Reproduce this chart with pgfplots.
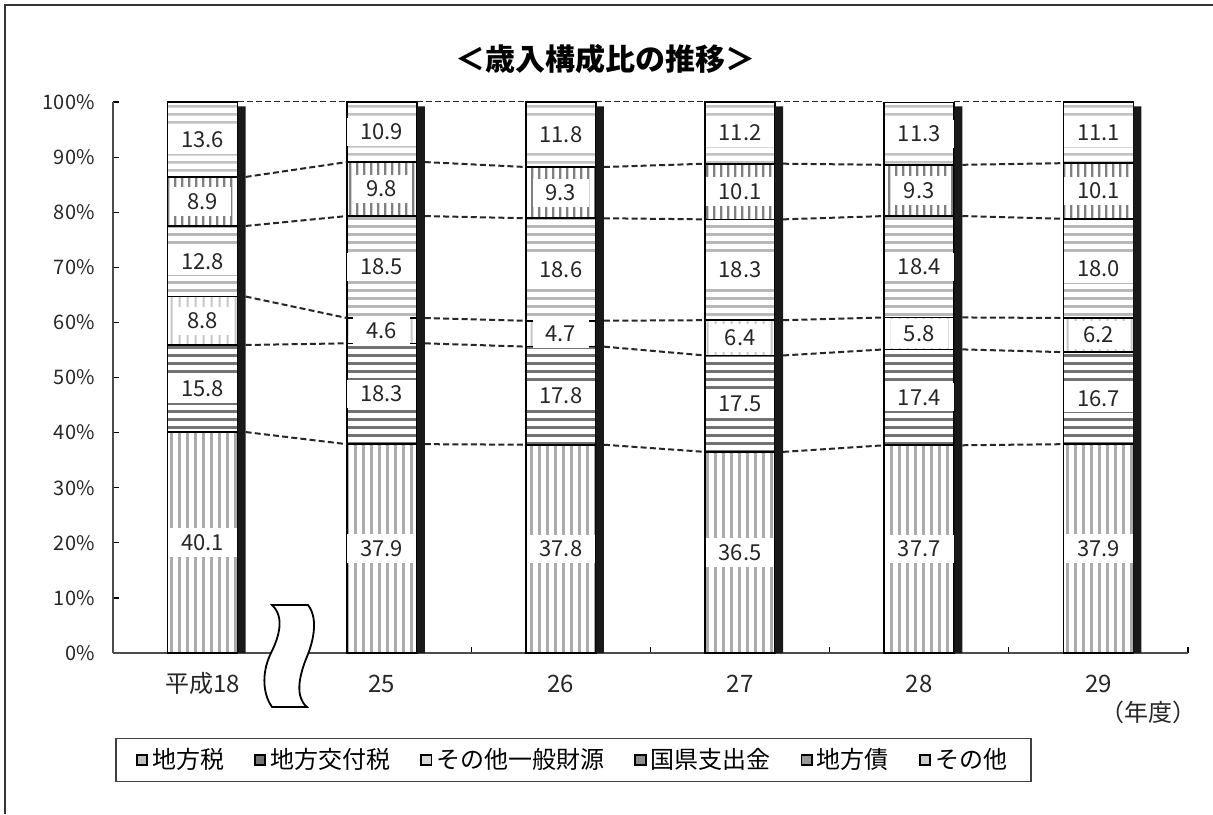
\documentclass[border=0pt]{standalone}
\usepackage{fontspec}
\setmainfont{Noto Sans CJK JP}
\usepackage{pgfplots}
\pgfplotsset{compat=1.18}
\usepackage{pgfplotstable}
\usetikzlibrary{patterns}

% stripe fills with tall / wide tiles, so no tile seams show inside a bar
\pgfdeclarepatternformonly{vA}{\pgfpointorigin}{\pgfqpoint{4pt}{400pt}}{\pgfqpoint{4pt}{400pt}}
  {\pgfpathrectangle{\pgfqpoint{1.25pt}{0pt}}{\pgfqpoint{1.5pt}{400pt}}\pgfusepath{fill}}
\pgfdeclarepatternformonly{vB}{\pgfpointorigin}{\pgfqpoint{4pt}{400pt}}{\pgfqpoint{4pt}{400pt}}
  {\pgfpathrectangle{\pgfqpoint{1.45pt}{0pt}}{\pgfqpoint{1.1pt}{400pt}}\pgfusepath{fill}}
\pgfdeclarepatternformonly{vC}{\pgfpointorigin}{\pgfqpoint{3.6pt}{400pt}}{\pgfqpoint{3.6pt}{400pt}}
  {\pgfpathrectangle{\pgfqpoint{1.15pt}{0pt}}{\pgfqpoint{1.3pt}{400pt}}\pgfusepath{fill}}
\pgfdeclarepatternformonly{hA}{\pgfpointorigin}{\pgfqpoint{700pt}{4pt}}{\pgfqpoint{700pt}{4pt}}
  {\pgfpathrectangle{\pgfqpoint{0pt}{1.25pt}}{\pgfqpoint{700pt}{1.5pt}}\pgfusepath{fill}}

% 歳入構成比 (%), bottom to top
\pgfplotstableread{
x tax kofu ippan koken sai other
0 40.1 15.8 8.8 12.8 8.9 13.6
1 37.9 18.3 4.6 18.5 9.8 10.9
2 37.8 17.8 4.7 18.6 9.3 11.8
3 36.5 17.5 6.4 18.3 10.1 11.2
4 37.7 17.4 5.8 18.4 9.3 11.3
5 37.9 16.7 6.2 18.0 10.1 11.1
}\datatable

\pgfplotsset{
  base/.style={scale only axis, width=537.5pt, height=275.5pt,
    at={(0,0)}, anchor=south west,
    xmin=-0.5, xmax=5.5, ymin=0, ymax=100, clip=false},
  icon/.style={legend image code/.code={%
    \draw[black, line width=0.9pt, fill=#1] (0pt,-2.6pt) rectangle (5.2pt,2.6pt);}},
  seg/.style={draw=black, line width=0.8pt, preaction={fill=white}},
  lab/.style={draw=none, mark=none, nodes near coords, point meta=explicit symbolic,
    every node near coord/.style={anchor=center, fill=white, text=black!85,
      inner xsep=6.5pt, inner ysep=3pt, font=\fontsize{11}{13}\selectfont}},
  link/.style={black!85, line width=1pt, dash pattern=on 3pt off 1.6pt,
    unbounded coords=jump, mark=none},
}

\begin{document}
\begin{tikzpicture}
\useasboundingbox (-56.5pt,-80.5pt) rectangle (550pt,326.5pt);

\begin{axis}[base,
  ybar stacked, bar width=35pt,
  axis lines*=left,
  axis line style={black!70, line width=0.8pt},
  tick align=inside, major tick length=3pt,
  tick style={black, line width=0.6pt},
  xtick={0.5,1.5,2.5,3.5,4.5,5.5}, xticklabels={},
  extra x ticks={0,1,2,3,4,5},
  extra x tick labels={平成18,25,26,27,28,29},
  extra x tick style={tick style={draw=none}},
  ytick={0,10,...,100},
  yticklabel={\pgfmathprintnumber{\tick}\%},
  /pgf/number format/assume math mode=true,
  yticklabel style={font=\fontsize{10}{12}\selectfont, text=black!85, anchor=east, inner sep=0pt, xshift=-9pt},
  xticklabel style={font=\fontsize{12}{14}\selectfont, text=black!85, anchor=base, inner sep=0pt, yshift=-19.5pt},
  title={\bfseries ＜歳入構成比の推移＞},
  title style={at={(axis description cs:0.4577,1.057)}, anchor=center, font=\fontsize{15}{17}\selectfont},
  xlabel={（年度）},
  xlabel style={at={(axis description cs:0.963,-0.107)}, anchor=center, font=\fontsize{12}{14}\selectfont, text=black!85},
  legend columns=6,
  legend cell align=left,
  legend style={at={(axis description cs:0.002,-0.154)}, anchor=north west,
    draw=black!75, line width=0.7pt, font=\fontsize{12}{14}\selectfont,
    inner xsep=10pt, inner ysep=3pt,
    /tikz/every even column/.append style={column sep=13pt}},
]
\addplot[seg, pattern=vA, pattern color=black!33, icon=black!25]
  table[x=x,y=tax]{\datatable};
\addlegendentry{地方税}
\addplot[seg, pattern=hA, pattern color=black!55, icon=black!55]
  table[x=x,y=kofu]{\datatable};
\addlegendentry{地方交付税}
\addplot[seg, pattern=vB, pattern color=black!22, icon=black!15]
  table[x=x,y=ippan]{\datatable};
\addlegendentry{その他一般財源}
\addplot[seg, pattern=hA, pattern color=black!28, icon=black!45]
  table[x=x,y=koken]{\datatable};
\addlegendentry{国県支出金}
\addplot[seg, pattern=vC, pattern color=black!50, icon=black!40]
  table[x=x,y=sai]{\datatable};
\addlegendentry{地方債}
\addplot[seg, pattern=hA, pattern color=black!24, icon=black!20]
  table[x=x,y=other]{\datatable};
\addlegendentry{その他}
\end{axis}

\begin{axis}[base, hide axis]
% dark edge to the right of each bar
\addplot[ybar, bar width=4pt, bar shift=19.5pt, fill=black!90, draw=none]
  coordinates {(0,99.2) (1,99.2) (2,99.2) (3,99.2) (4,99.2) (5,99.2)};
% dashed links between the segment boundaries
\addplot[link] coordinates {(0.24,40.1)(0.805,37.9)(1,nan)(1.24,37.9)(1.805,37.8)(2,nan)(2.24,37.8)(2.805,36.5)(3,nan)(3.24,36.5)(3.805,37.7)(4,nan)(4.24,37.7)(4.805,37.9)};
\addplot[link] coordinates {(0.24,55.9)(0.805,56.2)(1,nan)(1.24,56.2)(1.805,55.6)(2,nan)(2.24,55.6)(2.805,54.0)(3,nan)(3.24,54.0)(3.805,55.1)(4,nan)(4.24,55.1)(4.805,54.6)};
\addplot[link] coordinates {(0.24,64.7)(0.805,60.8)(1,nan)(1.24,60.8)(1.805,60.3)(2,nan)(2.24,60.3)(2.805,60.4)(3,nan)(3.24,60.4)(3.805,60.9)(4,nan)(4.24,60.9)(4.805,60.8)};
\addplot[link] coordinates {(0.24,77.5)(0.805,79.3)(1,nan)(1.24,79.3)(1.805,78.9)(2,nan)(2.24,78.9)(2.805,78.7)(3,nan)(3.24,78.7)(3.805,79.3)(4,nan)(4.24,79.3)(4.805,78.8)};
\addplot[link] coordinates {(0.24,86.4)(0.805,89.1)(1,nan)(1.24,89.1)(1.805,88.2)(2,nan)(2.24,88.2)(2.805,88.8)(3,nan)(3.24,88.8)(3.805,88.6)(4,nan)(4.24,88.6)(4.805,88.9)};
\addplot[link, line width=0.5pt] coordinates {(0.195,100)(0.805,100)(1,nan)(1.195,100)(1.805,100)(2,nan)(2.195,100)(2.805,100)(3,nan)(3.195,100)(3.805,100)(4,nan)(4.195,100)(4.805,100)};
% value labels at the middle of each segment
\addplot[lab] table[x=x, y expr=\thisrow{tax}/2, meta=tax]{\datatable};
\addplot[lab] table[x=x, y expr=\thisrow{tax}+\thisrow{kofu}/2, meta=kofu]{\datatable};
\addplot[lab] table[x=x, y expr=\thisrow{tax}+\thisrow{kofu}+\thisrow{ippan}/2, meta=ippan]{\datatable};
\addplot[lab] table[x=x, y expr=\thisrow{tax}+\thisrow{kofu}+\thisrow{ippan}+\thisrow{koken}/2, meta=koken]{\datatable};
\addplot[lab] table[x=x, y expr=\thisrow{tax}+\thisrow{kofu}+\thisrow{ippan}+\thisrow{koken}+\thisrow{sai}/2, meta=sai]{\datatable};
\addplot[lab] table[x=x, y expr=\thisrow{tax}+\thisrow{kofu}+\thisrow{ippan}+\thisrow{koken}+\thisrow{sai}+\thisrow{other}/2, meta=other]{\datatable};
\end{axis}

% axis break mark between 平成18 and 25
\draw[black, line width=0.9pt, fill=white] (79.5pt,24pt) -- (97.5pt,24pt)
  .. controls (103pt,17pt) and (100pt,5pt) .. (96.5pt,-3pt)
  .. controls (93pt,-12pt) and (91pt,-22pt) .. (97pt,-27pt) -- (79.5pt,-27pt)
  .. controls (74pt,-19pt) and (75pt,-8pt) .. (79pt,0pt)
  .. controls (83pt,8pt) and (86pt,18pt) .. (79.5pt,24pt) -- cycle;
% outer frame (top and left edges)
\draw[black!80, line width=1pt] (-54pt,-80.5pt) -- (-54pt,324pt) -- (550pt,324pt);
\end{tikzpicture}
\end{document}
